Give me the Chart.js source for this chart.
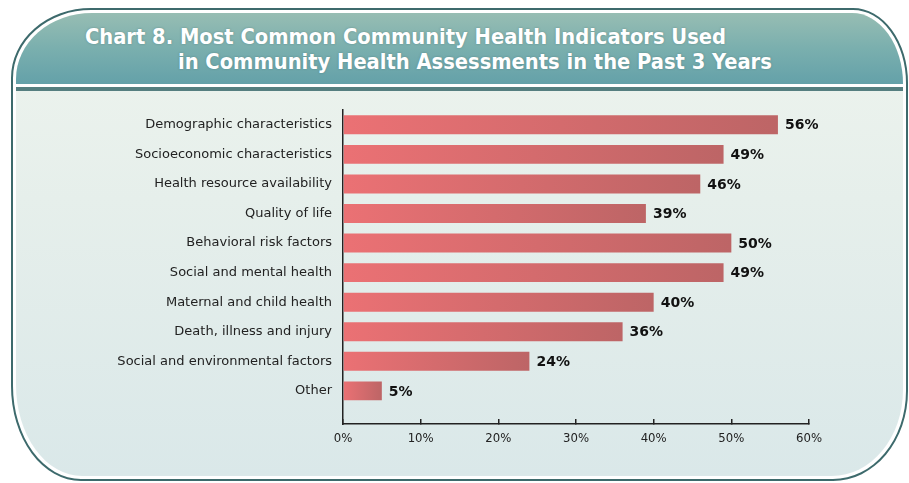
<!DOCTYPE html>
<html lang="en">
<head>
    <meta charset="UTF-8">
    <title>Chart 8</title>
    <style>
        html, body { margin: 0; padding: 0; background: #ffffff; width: 909px; height: 483px; overflow: hidden; }
        .frame {
            position: absolute; left: 11px; top: 8px; width: 897px; height: 473px;
            box-sizing: border-box; border: 2px solid #3d6a6c; background: #ffffff; padding: 3px;
            border-radius: 80px 55px 75px 70px / 70px 75px 90px 95px;
        }
        .panel {
            width: 100%; height: 100%; overflow: hidden;
            border-radius: 76px 51px 71px 66px / 66px 71px 86px 91px;
            background: linear-gradient(to bottom, #eef4ee 0%, #e6efeb 40%, #dae8e9 100%);
        }
        .header {
            height: 71px; position: relative;
            background: linear-gradient(to bottom, #97bdb3 0%, #7aafae 50%, #64a1a9 100%);
            border-bottom: 3px solid #ffffff;
        }
        .sep { height: 4px; background: #557f80; }
        .title {
            position: absolute; color: #ffffff; font-family: "DejaVu Sans Condensed", "DejaVu Sans", sans-serif;
            font-weight: bold; font-size: 21.7px; line-height: 25px; white-space: nowrap;
            text-shadow: 0 0 2px rgba(60,100,100,0.5);
        }
        #grafico { position: absolute; left: 0; top: 0; }
    </style>
</head>
<body>
    <div class="frame">
        <div class="panel">
            <div class="header">
                <div class="title" style="left: 69px; top: 11px;">Chart 8. Most Common Community Health Indicators Used</div>
                <div class="title" style="left: 162px; top: 36px;">in Community Health Assessments in the Past 3 Years</div>
            </div>
            <div class="sep"></div>
        </div>
    </div>

    <canvas id="grafico" width="909" height="483"></canvas>

    <script src="https://cdn.jsdelivr.net/npm/chart.js"></script>
    <script>
        // dados
        const categorias = [
            'Demographic characteristics',
            'Socioeconomic characteristics',
            'Health resource availability',
            'Quality of life',
            'Behavioral risk factors',
            'Social and mental health',
            'Maternal and child health',
            'Death, illness and injury',
            'Social and environmental factors',
            'Other'
        ];
        const valores = [56, 49, 46, 39, 50, 49, 40, 36, 24, 5];
        const ticksX = [0, 10, 20, 30, 40, 50, 60];

        // rótulos de valor no fim de cada barra
        const rotulosValor = {
            id: 'rotulosValor',
            afterDatasetsDraw(chart) {
                const ctx = chart.ctx;
                const meta = chart.getDatasetMeta(0);
                ctx.save();
                ctx.font = 'bold 14px "DejaVu Sans"';
                ctx.fillStyle = '#111111';
                ctx.textBaseline = 'middle';
                ctx.textAlign = 'left';
                meta.data.forEach((bar, i) => {
                    ctx.fillText(valores[i] + '%', bar.x + 7, bar.y + 1);
                });
                ctx.restore();
            }
        };

        const ctxBar = document.getElementById('grafico').getContext('2d');
        const grafico = new Chart(ctxBar, {
            type: 'bar',
            data: {
                labels: categorias,
                datasets: [{
                    data: valores,
                    backgroundColor: function (c) {
                        const chart = c.chart;
                        if (!chart.chartArea || c.type !== 'data') return '#d86e70';
                        const x0 = chart.scales.x.getPixelForValue(0);
                        const x1 = chart.scales.x.getPixelForValue(valores[c.dataIndex]);
                        const g = chart.ctx.createLinearGradient(x0, 0, x1, 0);
                        g.addColorStop(0, '#eb7174');
                        g.addColorStop(1, '#bd6566');
                        return g;
                    },
                    borderWidth: 0,
                    categoryPercentage: 1,
                    barPercentage: 0.64
                }]
            },
            options: {
                indexAxis: 'y',
                responsive: false,
                animation: false,
                layout: { padding: { top: 110, right: 100, bottom: 19, left: 0 } },
                plugins: {
                    legend: { display: false },
                    tooltip: { enabled: false }
                },
                scales: {
                    x: {
                        min: 0,
                        max: 60,
                        afterBuildTicks: s => { s.ticks = ticksX.map(v => ({ value: v })); },
                        afterFit: s => { s.height = 40; },
                        grid: { drawOnChartArea: false, drawTicks: true, tickLength: -5, color: '#222222', lineWidth: 1.5 },
                        border: { color: '#222222', width: 1.5 },
                        ticks: {
                            padding: 12,
                            color: '#222222',
                            font: { family: '"DejaVu Sans Condensed"', size: 13 },
                            callback: v => v + '%'
                        }
                    },
                    y: {
                        // espaço extra abaixo da última barra, como no original
                        afterBuildTicks: s => { s._valueRange += 0.62; },
                        afterFit: s => { s.width = 343; },
                        grid: { display: true, drawOnChartArea: false, drawTicks: false },
                        border: { color: '#222222', width: 1.5 },
                        ticks: {
                            padding: 11,
                            color: '#222222',
                            font: { family: '"DejaVu Sans"', size: 13 }
                        }
                    }
                }
            },
            plugins: [rotulosValor]
        });
    </script>
</body>
</html>
